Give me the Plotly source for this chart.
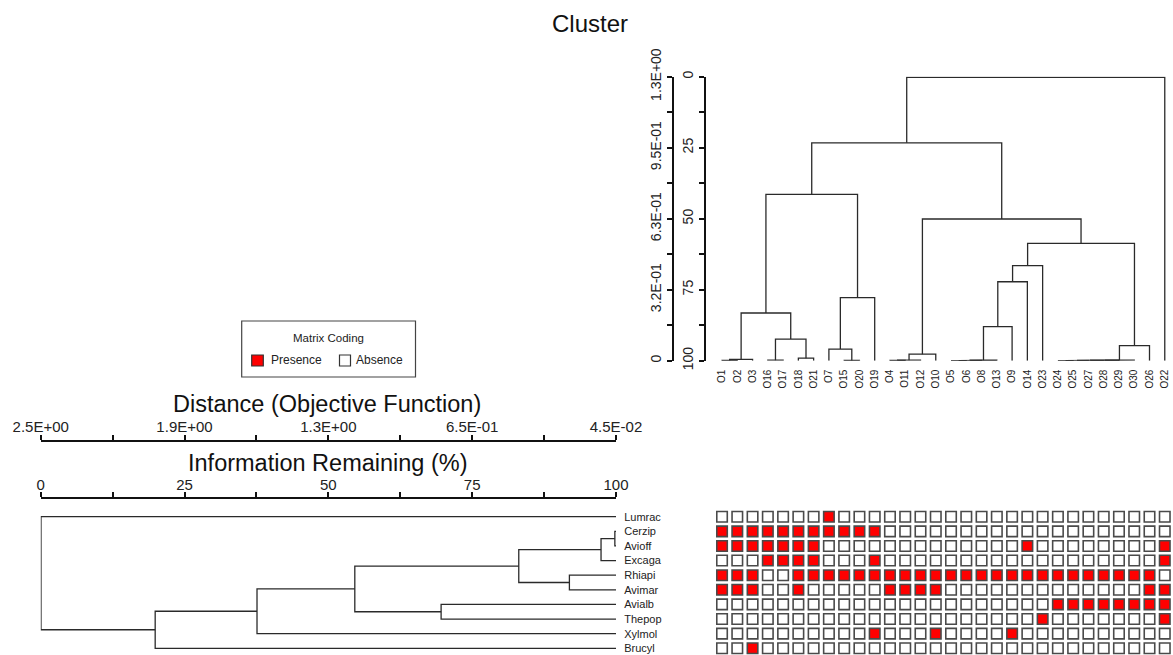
import plotly.graph_objects as go

W, H = 1173, 655
FONT = "Liberation Sans, Arial, sans-serif"

# ---------------- data ----------------
site_order = ['O1', 'O2', 'O3', 'O16', 'O17', 'O18', 'O21', 'O7', 'O15', 'O20', 'O19',
              'O4', 'O11', 'O12', 'O10', 'O5', 'O6', 'O8', 'O13', 'O9', 'O14', 'O23',
              'O24', 'O25', 'O27', 'O28', 'O29', 'O30', 'O26', 'O22']

# (child a, child b, information remaining %) ; merge k creates cluster "c{k}"
site_merges = [
    ('O1', 'O2', 99.9),     # c1
    ('c1', 'O3', 99.5),     # c2
    ('O16', 'O17', 99.8),   # c3
    ('O18', 'O21', 99.1),   # c4
    ('c3', 'c4', 92.4),     # c5
    ('c2', 'c5', 83.2),     # c6
    ('O15', 'O20', 99.9),   # c7
    ('O7', 'c7', 95.9),     # c8
    ('c8', 'O19', 77.8),    # c9
    ('c6', 'c9', 41.4),     # c10
    ('O4', 'O11', 99.9),    # c11
    ('c11', 'O12', 99.8),   # c12
    ('c12', 'O10', 97.7),   # c13
    ('O5', 'O6', 99.95),    # c14
    ('c14', 'O8', 99.9),    # c15
    ('c15', 'O13', 99.85),  # c16
    ('c16', 'O9', 88.0),    # c17
    ('c17', 'O14', 72.2),   # c18
    ('c18', 'O23', 66.5),   # c19
    ('O24', 'O25', 99.95),  # c20
    ('c20', 'O27', 99.9),   # c21
    ('c21', 'O28', 99.9),   # c22
    ('c22', 'O29', 99.85),  # c23
    ('c23', 'O30', 99.8),   # c24
    ('c24', 'O26', 94.7),   # c25
    ('c19', 'c25', 58.7),   # c26
    ('c13', 'c26', 50.1),   # c27
    ('c10', 'c27', 23.3),   # c28
    ('c28', 'O22', 0.2),    # c29
]

species = ['Lumrac', 'Cerzip', 'Avioff', 'Excaga', 'Rhiapi',
           'Avimar', 'Avialb', 'Thepop', 'Xylmol', 'Brucyl']

species_merges = [
    ('Cerzip', 'Avioff', 99.8),  # c1
    ('c1', 'Excaga', 97.4),      # c2
    ('Rhiapi', 'Avimar', 91.9),  # c3
    ('c2', 'c3', 83.1),          # c4
    ('Avialb', 'Thepop', 69.6),  # c5
    ('c4', 'c5', 54.6),          # c6
    ('c6', 'Xylmol', 37.6),      # c7
    ('c7', 'Brucyl', 19.9),      # c8
    ('Lumrac', 'c8', 0.05),      # c9
]

# presence (1) / absence (0), columns follow site_order
matrix_rows = {
    'Lumrac': '00000 00100 00000 00000 00000 00000',
    'Cerzip': '11111 11111 10000 00000 00000 00000',
    'Avioff': '11111 11000 00000 00000 10000 00001',
    'Excaga': '00011 11000 10000 00000 00000 00001',
    'Rhiapi': '11100 11111 11111 11111 11111 11110',
    'Avimar': '11100 10000 01111 00000 00000 00011',
    'Avialb': '00000 00000 00000 00000 00111 11111',
    'Thepop': '00000 00000 00000 00000 01000 00001',
    'Xylmol': '00000 00000 10001 00001 00000 00000',
    'Brucyl': '00100 00000 00000 00000 00000 00000',
}

info_ticks = [0, 12.5, 25, 37.5, 50, 62.5, 75, 87.5, 100]
info_labels = ['0', '', '25', '', '50', '', '75', '', '100']
site_dist_labels = ['1.3E+00', '', '9.5E-01', '', '6.3E-01', '', '3.2E-01', '', '0']
species_dist_labels = ['2.5E+00', '', '1.9E+00', '', '1.3E+00', '', '6.5E-01', '', '4.5E-02']

legend_items = ['Presence', 'Absence']
PRESENT = '#ff0000'
ABSENT = '#ffffff'


# ---------------- helpers ----------------
def dendro_lines(order, merges):
    pos = {n: i + 1 for i, n in enumerate(order)}
    hgt = {n: 100.0 for n in order}
    P, Hh = [], []
    for k, (a, b, h) in enumerate(merges, start=1):
        P += [pos[a], pos[a], pos[b], pos[b], None]
        Hh += [hgt[a], h, h, hgt[b], None]
        name = f'c{k}'
        pos[name] = (pos[a] + pos[b]) / 2
        hgt[name] = h
    return P, Hh


def fx(px):
    return px / W


def fy(py):
    return 1 - py / H


LINE = dict(color='#2a2a2a', width=1.3)
fig = go.Figure()

# top (sites) dendrogram
sp, sh = dendro_lines(site_order, site_merges)
fig.add_trace(go.Scatter(x=sp, y=sh, mode='lines', line=LINE, xaxis='x', yaxis='y',
                         showlegend=False, hoverinfo='skip'))
fig.add_trace(go.Scatter(x=[None], y=[None], xaxis='x', yaxis='y2', showlegend=False,
                         hoverinfo='skip'))

# bottom-left (species) dendrogram
bp, bh = dendro_lines(species, species_merges)
fig.add_trace(go.Scatter(x=bh, y=bp, mode='lines', line=LINE, xaxis='x3', yaxis='y3',
                         showlegend=False, hoverinfo='skip'))
fig.add_trace(go.Scatter(x=[None], y=[None], xaxis='x4', yaxis='y3', showlegend=False,
                         hoverinfo='skip'))

# matrix
pres_x, pres_y, abs_x, abs_y = [], [], [], []
for r, name in enumerate(species, start=1):
    row = matrix_rows[name].replace(' ', '')
    for c, v in enumerate(row, start=1):
        if v == '1':
            pres_x.append(c); pres_y.append(r)
        else:
            abs_x.append(c); abs_y.append(r)

CELL = dict(symbol='square', size=10.5, line=dict(color='#4a4a4a', width=1.6))
fig.add_trace(go.Scatter(x=pres_x, y=pres_y, mode='markers', name='Presence',
                         marker=dict(color=PRESENT, **CELL), showlegend=False,
                         xaxis='x5', yaxis='y5', hoverinfo='skip'))
fig.add_trace(go.Scatter(x=abs_x, y=abs_y, mode='markers', name='Absence',
                         marker=dict(color=ABSENT, **CELL), showlegend=False,
                         xaxis='x5', yaxis='y5', hoverinfo='skip'))

# ---------------- layout ----------------
axis_common = dict(showgrid=False, zeroline=False, showline=True, linecolor='#111',
                   linewidth=2, ticks='outside', tickwidth=2, ticklen=5, tickcolor='#111',
                   tickmode='array', tickvals=info_ticks, automargin=False)
TOPFONT = dict(family=FONT, size=14, color='#222')
BOTFONT = dict(family=FONT, size=15, color='#222')

top_x_dom = [fx(714.4), fx(1172.4)]
top_y_dom = [fy(360.7), fy(76.7)]
bot_x_dom = [fx(40.7), fx(616)]
bot_y_dom = [0, fy(509.4)]
bot_y_range = [10.46, 0.5]

# legend (drawn by hand, matches the boxed key of the original)
shapes = [
    dict(type='rect', xref='paper', yref='paper', x0=fx(241.7), x1=fx(415.5),
         y0=fy(377), y1=fy(321), line=dict(color='#444', width=1.2), fillcolor='white'),
    dict(type='rect', xref='paper', yref='paper', x0=fx(251.7), x1=fx(263.3),
         y0=fy(366), y1=fy(355), line=dict(color='#333', width=1.2), fillcolor=PRESENT),
    dict(type='rect', xref='paper', yref='paper', x0=fx(339.5), x1=fx(350.5),
         y0=fy(366), y1=fy(355), line=dict(color='#333', width=1.2), fillcolor=ABSENT),
]


def label(text, x, y, size, xanchor='center', color='#111'):
    return dict(text=text, x=fx(x), y=fy(y), xref='paper', yref='paper',
                xanchor=xanchor, yanchor='middle', showarrow=False,
                font=dict(family=FONT, size=size, color=color))


annotations = [
    label('Cluster', 590, 23.5, 24),
    label('Distance (Objective Function)', 327, 404, 23.5),
    label('Information Remaining (%)', 328, 463, 23.5),
    label('Matrix Coding', 328.5, 338, 11.5, color='#222'),
    label(legend_items[0], 269, 360.5, 12, xanchor='left', color='#222'),
    label(legend_items[1], 354, 360.5, 12, xanchor='left', color='#222'),
]

fig.update_layout(
    width=W, height=H, margin=dict(l=0, r=0, t=0, b=0, autoexpand=False),
    paper_bgcolor='white', plot_bgcolor='white', showlegend=False,
    font=dict(family=FONT, color='#222'),
    xaxis=dict(domain=top_x_dom, range=[0.5, 30.5], anchor='y', showgrid=False,
               zeroline=False, showline=False, tickmode='array', automargin=False,
               tickvals=list(range(1, 31)), ticktext=site_order, tickangle=-90,
               ticks='outside', ticklen=4, tickcolor='rgba(0,0,0,0)',
               tickfont=dict(family=FONT, size=10, color='#222')),
    yaxis=dict(domain=top_y_dom, range=[100, 0], anchor='free', position=fx(705),
               side='left', ticktext=info_labels, tickangle=-90, tickfont=TOPFONT,
               **axis_common),
    yaxis2=dict(domain=top_y_dom, range=[100, 0], anchor='free', position=fx(672.5),
                overlaying='y', side='left', ticktext=site_dist_labels, tickangle=-90,
                tickfont=TOPFONT, **axis_common),
    xaxis3=dict(domain=bot_x_dom, range=[0, 100], anchor='free', position=fy(498.3),
                side='top', ticktext=info_labels, tickfont=BOTFONT,
                ticklabelstandoff=-4, **axis_common),
    xaxis4=dict(domain=bot_x_dom, range=[0, 100], anchor='free', position=fy(440.7),
                overlaying='x3', side='top', ticktext=species_dist_labels,
                tickfont=BOTFONT, ticklabelstandoff=-3, **axis_common),
    yaxis3=dict(domain=bot_y_dom, range=bot_y_range, anchor='free', position=fx(616),
                side='right', showgrid=False, zeroline=False, showline=False,
                tickmode='array', tickvals=list(range(1, 11)), ticktext=species,
                ticks='outside', ticklen=5, tickcolor='rgba(0,0,0,0)', automargin=False,
                tickfont=dict(family=FONT, size=11, color='#222')),
    xaxis5=dict(domain=top_x_dom, range=[0.5, 30.5], anchor='y5', visible=False,
                automargin=False),
    yaxis5=dict(domain=bot_y_dom, range=bot_y_range, anchor='x5', visible=False,
                automargin=False),
    shapes=shapes,
    annotations=annotations,
)

fig.write_html('out.html')
